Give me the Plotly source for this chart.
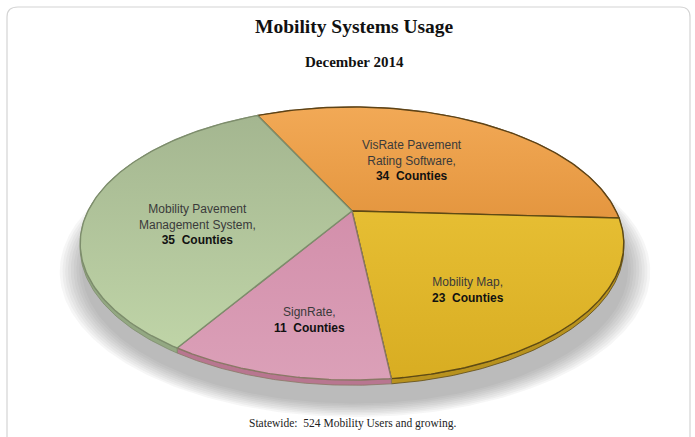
import numpy as np
import plotly.graph_objects as go

# ---- data ----
categories = ["VisRate Pavement<br>Rating Software,", "Mobility Map,", "SignRate,",
              "Mobility Pavement<br>Management System,"]
counties = [34, 23, 11, 35]
unit = "Counties"
title = "Mobility Systems Usage"
subtitle = "December 2014"
footer = "Statewide:  524 Mobility Users and growing."

# ---- styles ----
top_colors = ["#f0a34d", "#e2b92c", "#d592ad", "#a9bd96"]
grad_colors = [("#f2a956", "#e4963f"), ("#e6be33", "#d8ad22"),
               ("#d38fab", "#dba0b8"), ("#a4b690", "#bfd4a7")]
side_colors = ["#c98535", "#b8921e", "#b87690", "#93a882"]
edge_colors = ["#5e4316", "#5e4a14", "#8a7866", "#7d8d6c"]

W, H = 695, 437
cx, cy = 352.0, 211.0          # projected pie centre
A, B, K = 264.0, 128.8, 0.238   # perspective projection parameters
start = -25.75                  # first slice angle (deg, clockwise from back)
thick = 4.0


def proj(theta_deg, r=1.0, dy=0.0):
    t = np.radians(theta_deg)
    x = r * np.sin(t)
    s = -r * np.cos(t)
    d = 1 - K * s
    return cx + A * x / d, cy + B * s / d + dy / d


fig = go.Figure()

# shadow (soft, layered)
full = np.linspace(0, 360, 361)
for i in range(9):
    sc = 0.985 + 0.01 * i
    t = np.radians(full)
    x = sc * np.sin(t)
    s = -sc * np.cos(t)
    d = 1 - K * s / sc
    fig.add_trace(go.Scatter(x=cx + 3 + A * 1.02 * x / d, y=cy + 26 + B * s / d,
                             mode="lines", fill="toself", line=dict(width=0),
                             fillcolor="rgba(90,90,90,0.055)", hoverinfo="skip",
                             showlegend=False))

total = sum(counties)
bounds = [start]
for v in counties:
    bounds.append(bounds[-1] + 360.0 * v / total)

# sides
for i in range(len(counties)):
    a = np.linspace(bounds[i], bounds[i + 1], 120)
    xt, yt = proj(a)
    xb, yb = proj(a[::-1], dy=thick)
    fig.add_trace(go.Scatter(x=np.concatenate([xt, xb, xt[:1]]),
                             y=np.concatenate([yt, yb, yt[:1]]),
                             mode="lines", fill="toself", line=dict(width=0.8, color=edge_colors[i]),
                             fillcolor=side_colors[i], hoverinfo="skip", showlegend=False))

# top faces
for i in range(len(counties)):
    a = np.linspace(bounds[i], bounds[i + 1], 120)
    xt, yt = proj(a)
    ys = np.concatenate([[cy], yt, [cy]])
    fig.add_trace(go.Scatter(x=np.concatenate([[cx], xt, [cx]]), y=ys,
                             mode="lines", fill="toself",
                             line=dict(width=1.4, color=edge_colors[i]),
                             fillcolor=top_colors[i],
                             fillgradient=dict(type="vertical",
                                               colorscale=[[0, grad_colors[i][0]], [1, grad_colors[i][1]]],
                                               start=float(ys.min()), stop=float(ys.max())),
                             hoverinfo="skip", showlegend=False))

# labels
label_r = [0.50, 0.66, 0.716, 0.58]
label_shift = [-3.75, 11.2, -2.0, -13.5]
for i, (c, v) in enumerate(zip(categories, counties)):
    mid = (bounds[i] + bounds[i + 1]) / 2 + label_shift[i]
    lx, ly = proj(mid, r=label_r[i])
    fig.add_annotation(x=lx, y=ly, xref="x", yref="y", showarrow=False,
                       text=f"<span style='color:#3a3a3a'>{c}</span><br><b>{v}  {unit}</b>",
                       font=dict(family="Liberation Sans, Arial", size=12, color="#111"),
                       align="center")

fig.add_annotation(x=W / 2 + 7, y=26, xref="x", yref="y", showarrow=False,
                   text=f"<b>{title}</b>",
                   font=dict(family="Liberation Serif, serif", size=19.5, color="#111"))
fig.add_annotation(x=W / 2 + 7, y=62, xref="x", yref="y", showarrow=False,
                   text=f"<b>{subtitle}</b>",
                   font=dict(family="Liberation Serif, serif", size=15, color="#111"))
fig.add_annotation(x=W / 2 + 5, y=423, xref="x", yref="y", showarrow=False,
                   text=footer,
                   font=dict(family="Liberation Serif, serif", size=11.5, color="#222"))

# rounded frame
fig.add_shape(type="path", xref="x", yref="y",
              path="M 18,7 L 680,7 Q 690,7 690,17 L 690,440 M 7,440 L 7,17 Q 7,7 18,7",
              line=dict(color="#d4d4d4", width=1.2))

fig.update_xaxes(range=[0, W], visible=False, fixedrange=True)
fig.update_yaxes(range=[H, 0], visible=False, fixedrange=True)
fig.update_layout(width=W, height=H, margin=dict(l=0, r=0, t=0, b=0),
                  paper_bgcolor="white", plot_bgcolor="white", showlegend=False)
fig.write_html("out.html")
